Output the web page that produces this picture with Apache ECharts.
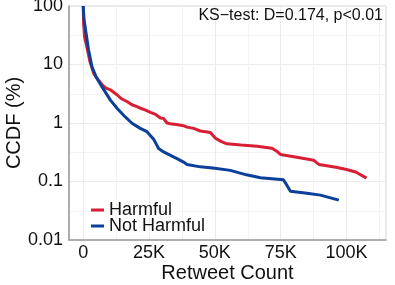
<!DOCTYPE html>
<html>
<head>
<meta charset="utf-8">
<script src="https://cdn.jsdelivr.net/npm/echarts@6/dist/echarts.min.js"></script>
<style>html,body{margin:0;padding:0;background:#fff;}#c{width:395px;height:285px;}</style>
</head>
<body>
<div id="c"></div>
<script>
var xTicks = [0, 25000, 50000, 75000, 100000];
var xMinorTicks = [12500, 37500, 62500, 87500, 112500];
var yTicks = [0.01, 0.1, 1, 10, 100];
var yTickLabels = ['0.01', '0.1', '1', '10', '100'];
var seriesNames = ['Harmful', 'Not Harmful'];
var harmfulX = [0, 150, 500, 1600, 2600, 4000, 5500, 7200, 8500, 10300, 12800, 14500, 16600, 18500, 20400, 21700, 23500, 25500, 27500, 29300, 30500, 31800, 33100, 36000, 38100, 39400, 41900, 44500, 48300, 50200, 52500, 54600, 60000, 66000, 71700, 73500, 74900, 80000, 87600, 89500, 96000, 100000, 103500, 107600];
var harmfulY = [100, 50, 30, 18, 11, 7, 5.6, 4.5, 4.0, 3.7, 3.04, 2.6, 2.33, 2.05, 1.91, 1.79, 1.68, 1.52, 1.4, 1.22, 1.2, 1.0, 0.97, 0.93, 0.9, 0.85, 0.81, 0.73, 0.69, 0.55, 0.48, 0.44, 0.42, 0.4, 0.37, 0.33, 0.29, 0.265, 0.23, 0.196, 0.175, 0.16, 0.145, 0.114];
var notHarmfulX = [0, 300, 1030, 2000, 3300, 5000, 7100, 10270, 13000, 15970, 18520, 20900, 21670, 24220, 26730, 28630, 30530, 31820, 35620, 38130, 39430, 44480, 50000, 55890, 62000, 67300, 76040, 77450, 78700, 85000, 90100, 97070];
var notHarmfulY = [100, 60, 35.6, 18, 9.24, 6, 4.18, 2.49, 1.75, 1.27, 0.99, 0.85, 0.81, 0.71, 0.53, 0.366, 0.32, 0.30, 0.246, 0.215, 0.196, 0.178, 0.168, 0.155, 0.13, 0.116, 0.107, 0.085, 0.068, 0.063, 0.0585, 0.048];
var annotation = 'KS\u2212test: D=0.174, p<0.01';

function pairs(xs, ys) { return xs.map(function (x, i) { return [x, ys[i]]; }); }
var yMinor = yTicks.slice(0, -1).map(function (v) { return v * Math.sqrt(10); });

var FONT = 'Liberation Sans, Arial, sans-serif';
var chart = echarts.init(document.getElementById('c'), null, {renderer: 'canvas'});
chart.setOption({
  animation: false,
  backgroundColor: '#fff',
  textStyle: {fontFamily: FONT},
  grid: {left: 69, right: 9, top: 6, bottom: 45, show: true, borderColor: '#d4d4d4', borderWidth: 1,
    containLabel: false, outerBoundsMode: 'none'},
  legend: {
    orient: 'vertical', left: 91, top: 201, itemWidth: 13, itemHeight: 3, itemGap: -2,
    icon: 'rect', padding: 0,
    data: seriesNames,
    textStyle: {fontSize: 18, color: '#111', fontFamily: FONT}
  },
  xAxis: [{
    type: 'value', min: -5400, max: 115000,
    name: 'Retweet Count', nameLocation: 'middle', nameGap: 23, nameMoveOverlap: false,
    nameTextStyle: {fontSize: 20, color: '#111', fontFamily: FONT},
    axisLine: {show: true, onZero: false, lineStyle: {color: '#999', width: 1.5}},
    axisTick: {show: false, customValues: xTicks},
    axisLabel: {customValues: xTicks, fontSize: 18, color: '#111', margin: 4, fontFamily: FONT,
      formatter: function (v) { return v === 0 ? '0' : (v / 1000) + 'K'; }},
    splitLine: {show: true, lineStyle: {color: '#ebebeb', width: 1}}
  }, {
    type: 'value', min: -5400, max: 115000, position: 'bottom',
    axisLine: {show: false}, axisLabel: {show: false},
    axisTick: {show: false, customValues: xMinorTicks},
    splitLine: {show: true, lineStyle: {color: '#f3f3f3', width: 1}}
  }],
  yAxis: [{
    type: 'log', logBase: 10, min: 0.01, max: 100,
    name: 'CCDF (%)', nameLocation: 'middle', nameGap: 45, nameMoveOverlap: false,
    nameTextStyle: {fontSize: 20, color: '#111', fontFamily: FONT},
    axisLine: {show: true, onZero: false, lineStyle: {color: '#999', width: 1.5}},
    axisTick: {show: false, customValues: yTicks},
    axisLabel: {customValues: yTicks, fontSize: 18, color: '#111', margin: 6, fontFamily: FONT,
      formatter: function (v) { return yTickLabels[Math.round(Math.log10(v)) + 2]; }},
    splitLine: {show: true, lineStyle: {color: '#ebebeb', width: 1}}
  }, {
    type: 'log', logBase: 10, min: 0.01, max: 100, position: 'left',
    axisLine: {show: false}, axisLabel: {show: false},
    axisTick: {show: false, customValues: yMinor},
    splitLine: {show: true, lineStyle: {color: '#f3f3f3', width: 1}}
  }],
  series: [{
    name: seriesNames[0], type: 'line', data: pairs(harmfulX, harmfulY),
    showSymbol: false, symbol: 'none', color: '#D91F33',
    lineStyle: {width: 3, color: '#D91F33'}, z: 3
  }, {
    name: seriesNames[1], type: 'line', data: pairs(notHarmfulX, notHarmfulY),
    showSymbol: false, symbol: 'none', color: '#0B3F99',
    lineStyle: {width: 3, color: '#0B3F99'}, z: 4
  }],
  graphic: [{
    type: 'text', x: 383, y: 8, z: 100,
    style: {text: annotation, fontSize: 16, fill: '#111', fontFamily: FONT, align: 'right', verticalAlign: 'top'}
  }]
});
</script>
</body>
</html>
